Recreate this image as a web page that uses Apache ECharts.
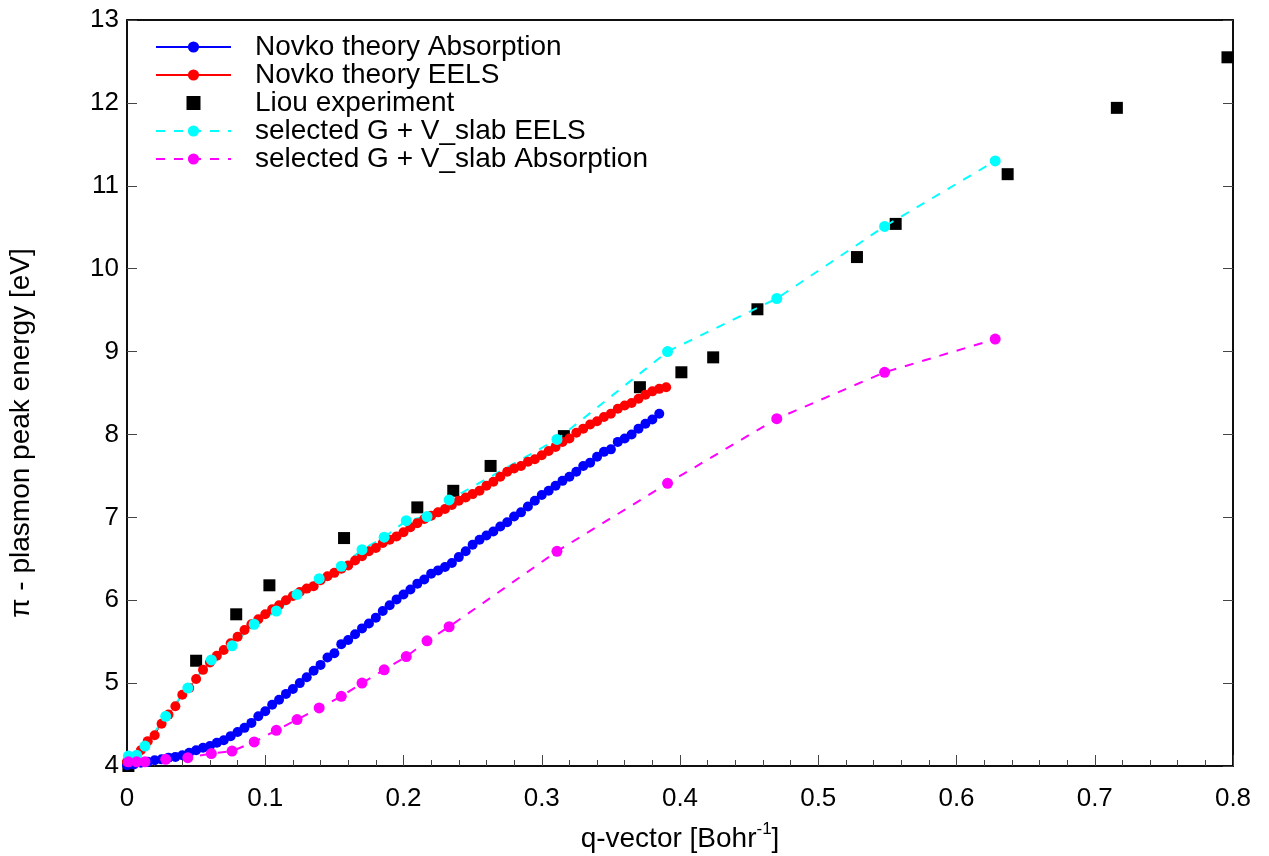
<!DOCTYPE html>
<html><head><meta charset="utf-8">
<script src="https://cdn.jsdelivr.net/npm/echarts@6/dist/echarts.min.js"></script>
<style>html,body{margin:0;padding:0;background:#fff}#c{width:1269px;height:856px}</style>
</head><body><div id="c"></div>
<script>
// q grid of the Novko theory curves [Bohr^-1]
const qNovko = [0,0.005,0.01,0.015,0.02,0.025,0.03,0.035,0.04,0.045,0.05,0.055,0.06,0.065,0.07,0.075,0.08,0.085,0.09,0.095,
  0.1,0.105,0.11,0.115,0.12,0.125,0.13,0.135,0.14,0.145,0.15,0.155,0.16,0.165,0.17,0.175,0.18,0.185,0.19,0.195,
  0.2,0.205,0.21,0.215,0.22,0.225,0.23,0.235,0.24,0.245,0.25,0.255,0.26,0.265,0.27,0.275,0.28,0.285,0.29,0.295,
  0.3,0.305,0.31,0.315,0.32,0.325,0.33,0.335,0.34,0.345,0.35,0.355,0.36,0.365,0.37,0.375,0.38,0.385,0.39];
const novkoAbsE = [4.01,4.02,4.04,4.05,4.07,4.08,4.10,4.11,4.13,4.16,
  4.19,4.22,4.24,4.28,4.31,4.36,4.41,4.46,4.52,4.60,
  4.66,4.74,4.80,4.87,4.93,5.00,5.07,5.15,5.22,5.31,
  5.36,5.47,5.52,5.59,5.66,5.72,5.79,5.87,5.94,6.01,
  6.07,6.13,6.20,6.25,6.32,6.36,6.40,6.45,6.52,6.59,
  6.67,6.73,6.78,6.83,6.89,6.94,7.01,7.06,7.13,7.20,
  7.27,7.32,7.38,7.44,7.49,7.55,7.62,7.66,7.73,7.79,
  7.82,7.91,7.95,8.00,8.07,8.13,8.18,8.25];
const novkoEelsE = [4.05,4.10,4.19,4.30,4.37,4.51,4.62,4.72,4.86,4.94,
  5.05,5.16,5.25,5.33,5.40,5.48,5.56,5.64,5.71,5.77,
  5.83,5.89,5.94,6.00,6.05,6.10,6.14,6.17,6.24,6.29,
  6.33,6.38,6.42,6.48,6.53,6.59,6.63,6.69,6.73,6.77,
  6.82,6.88,6.93,6.98,7.02,7.06,7.10,7.15,7.20,7.24,
  7.28,7.32,7.38,7.43,7.49,7.55,7.59,7.62,7.67,7.70,
  7.75,7.80,7.85,7.91,7.95,8.02,8.07,8.12,8.16,8.21,
  8.25,8.31,8.35,8.38,8.43,8.48,8.52,8.55,8.57];
// Liou experiment
const qLiou = [0.001,0.050,0.079,0.103,0.157,0.210,0.236,0.263,0.316,0.371,0.401,0.424,0.456,0.528,0.556,0.637,0.716,0.796];
const liouE = [4.00,5.27,5.83,6.18,6.75,7.12,7.32,7.62,7.98,8.57,8.75,8.93,9.51,10.14,10.54,11.14,11.94,12.55];
// selected G + V_slab
const qSel = [0.001,0.007,0.013,0.028,0.044,0.061,0.076,0.092,0.108,0.123,0.139,0.155,0.170,0.186,0.202,0.217,0.233,0.311,0.391,0.470,0.548,0.628];
const selEelsE = [4.12,4.13,4.24,4.60,4.94,5.28,5.45,5.71,5.87,6.07,6.26,6.41,6.61,6.76,6.96,7.01,7.21,7.94,9.00,9.64,10.51,11.30];
const selAbsE = [4.05,4.05,4.05,4.08,4.10,4.15,4.18,4.29,4.43,4.56,4.70,4.84,5.00,5.16,5.32,5.51,5.68,6.59,7.41,8.19,8.75,9.15];
const seriesNames = ['Novko theory Absorption','Novko theory EELS','Liou experiment','selected G + V_slab EELS','selected G + V_slab Absorption'];

const FONT = "'Liberation Sans', Arial, sans-serif";
const pair = (xs, ys) => ys.map((y, i) => [xs[i], y]);

const chart = echarts.init(document.getElementById('c'), null, {renderer: 'canvas'});
chart.setOption({
  animation: false,
  backgroundColor: '#fff',
  textStyle: {fontFamily: FONT},
  grid: {left: 127, right: 36, top: 20, bottom: 90, show: true, borderColor: '#000', borderWidth: 1.5,
         containLabel: false, outerBoundsMode: 'none'},
  legend: {
    orient: 'vertical', left: 155, top: 33, padding: 0, itemWidth: 75, itemHeight: 14, itemGap: 0,
    symbolKeepAspect: true,
    textStyle: {fontSize: 28, color: '#000', fontFamily: FONT, lineHeight: 28, padding: [0, 0, 0, 19]},
    data: seriesNames.map(n => n === 'Liou experiment'
      ? {name: n, icon: 'path://M0,0L12,0L12,12L0,12Z'} : {name: n})
  },
  xAxis: [{
    type: 'value', min: 0, max: 0.8, interval: 0.1, position: 'bottom',
    axisLine: {show: true, onZero: false, lineStyle: {color: '#000', width: 1.5}},
    axisTick: {show: true, inside: true, length: 11, lineStyle: {color: '#444'}},
    minorTick: {show: true, splitNumber: 5, length: 6, lineStyle: {color: '#444'}},
    splitLine: {show: false},
    axisLabel: {fontSize: 26, color: '#000', margin: 20, fontFamily: FONT},
    name: '{n|q-vector [Bohr}{s|-1}{n|]}',
    nameLocation: 'middle', nameGap: 55,
    nameTextStyle: {rich: {
      n: {fontSize: 28, color: '#000', fontFamily: FONT, lineHeight: 32, verticalAlign: 'bottom'},
      s: {fontSize: 17, color: '#000', fontFamily: FONT, lineHeight: 17, verticalAlign: 'top'}
    }}
  }, {
    type: 'value', min: 0, max: 0.8, interval: 0.1, position: 'top',
    axisLine: {show: true, onZero: false, lineStyle: {color: '#000', width: 1.5}},
    axisTick: {show: false}, axisLabel: {show: false}, splitLine: {show: false}
  }],
  yAxis: [{
    type: 'value', min: 4, max: 13, interval: 1, position: 'left',
    axisLine: {show: true, onZero: false, lineStyle: {color: '#000', width: 1.5}},
    axisTick: {show: true, inside: true, length: 10, lineStyle: {color: '#444'}},
    splitLine: {show: false},
    axisLabel: {fontSize: 26, color: '#000', margin: 8, fontFamily: FONT},
    name: 'π - plasmon peak energy [eV]', nameLocation: 'middle', nameGap: 92, nameRotate: 90,
    nameTextStyle: {fontSize: 28, color: '#000', fontFamily: FONT, padding: [0, 80, 0, 0]}
  }, {
    type: 'value', min: 4, max: 13, interval: 1, position: 'right',
    axisLine: {show: true, onZero: false, lineStyle: {color: '#000', width: 1.5}},
    axisTick: {show: true, inside: true, length: 10, lineStyle: {color: '#444'}},
    axisLabel: {show: false}, splitLine: {show: false}
  }],
  series: [
    {name: seriesNames[0], type: 'line', data: pair(qNovko, novkoAbsE), color: '#0000ff',
     symbol: 'circle', symbolSize: 10, showAllSymbol: true, lineStyle: {width: 1}},
    {name: seriesNames[1], type: 'line', data: pair(qNovko, novkoEelsE), color: '#ff0000',
     symbol: 'circle', symbolSize: 10, showAllSymbol: true, lineStyle: {width: 1}},
    {name: seriesNames[2], type: 'scatter', data: pair(qLiou, liouE), color: '#000000',
     symbol: 'rect', symbolSize: 12, itemStyle: {opacity: 1}},
    {name: seriesNames[3], type: 'line', data: pair(qSel, selEelsE), color: '#00ffff',
     symbol: 'circle', symbolSize: 11, showAllSymbol: true, lineStyle: {width: 2, type: [9, 9]}},
    {name: seriesNames[4], type: 'line', data: pair(qSel, selAbsE), color: '#ff00ff',
     symbol: 'circle', symbolSize: 11, showAllSymbol: true, lineStyle: {width: 2, type: [9, 9]}}
  ]
});
</script></body></html>
